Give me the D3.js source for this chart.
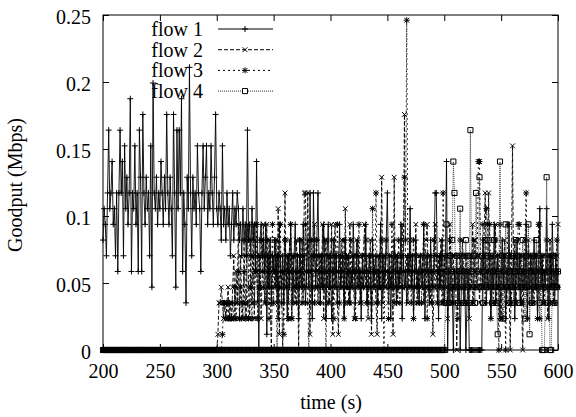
<!DOCTYPE html>
<html>
<head>
<meta charset="utf-8">
<script src="https://cdn.jsdelivr.net/npm/d3@7"></script>
<style>
  body { margin: 0; background: #fff; }
  svg text { font-family: "Liberation Serif", "Times New Roman", serif; fill: #000; }
</style>
</head>
<body>
<div id="chart"></div>
<script>
// goodput per flow in packets per second (1 s samples, t = 200..600)
const PKT_MBPS = 0.01172; // one 1465-byte packet per second

const xTicks = [200, 250, 300, 350, 400, 450, 500, 550, 600];
const yTicks = [0, 0.05, 0.1, 0.15, 0.2, 0.25];
const flowNames = ["flow 1", "flow 2", "flow 3", "flow 4"];

const flow1Levels = [
  7,9,8,6,10,14,9,10,12,8, 9,6,10,5,10,14,10,12,6,13, 9,11,8,10,16,5,10,9,13,8,
  10,5,14,11,5,15,10,8,11,9, 10,6,13,4,17,10,9,11,8,10, 9,12,10,8,11,9,15,10,8,11,
  9,6,15,10,4,14,9,14,10,16, 5,10,8,3,11,9,18,10,6,11, 9,10,8,13,10,9,5,10,13,9,
  11,13,8,10,9,13,10,8,11,15,
  9,8,10,9,7,13,8,9,7,10, 8,9,6,8,10,7,9,8,10,9, 7,8,6,9,7,8,6,14,7,8,
  6,9,7,8,5,12,6,0,7,8, 6,7,5,8,1,6,4,7,3,6, 5,7,4,6,2,8,5,4,6,3,
  7,5,2,6,4,8,5,3,6,8, 4,6,2,7,5,4,8,6,3,5, 7,4,10,5,2,10,6,4,7,10,
  5,3,6,4,8,5,2,6,8,4,
  6,2,5,7,4,6,3,5,8,4, 5,6,2,7,4,5,6,3,5,4, 8,5,3,6,7,4,5,2,6,4,
  5,8,3,4,6,5,2,7,4,5, 6,3,5,4,8,2,6,4,5,7, 10,4,5,2,6,4,7,5,3,6,
  4,5,8,2,6,4,5,3,6,5, 9,4,6,2,5,7,4,5,3,6, 5,4,8,2,5,6,4,3,7,5,
  4,6,10,10,5,2,6,4,7,5,
  3,6,12,0,5,3,6,4,0,5, 4,6,3,5,0,4,6,3,5,0, 3,5,0,0,0,0,0,0,0,0,
  0,0,0,0,7,4,6,3,5,4, 6,2,5,4,8,3,5,6,4,2, 5,7,4,6,2,5,4,8,3,5,
  4,6,2,5,7,4,6,3,5,4, 6,4,8,2,5,4,6,3,5,7, 4,6,2,5,9,4,6,3,5,4,
  9,5,2,6,4,8,5,3,6,4,
  5
];

const flow2Levels = [
  0,0,0,0,0,0,0,0,0,0,0,0,0,0,0,0,0,0,0,0,
  0,0,0,0,0,0,0,0,0,0,0,0,0,0,0,0,0,0,0,0,
  0,0,0,0,0,0,0,0,0,0,0,0,0,0,0,0,0,0,0,0,
  0,0,0,0,0,0,0,0,0,0,0,0,0,0,0,0,0,0,0,0,
  0,0,0,0,0,0,0,0,0,0,0,0,0,0,0,0,0,0,0,0,
  0,
  1,3,3,4,3,2,3,2,3,4, 2,3,2,4,6,2,5,3,8,2, 6,3,2,7,3,2,8,4,2,6,
  3,8,2,7,5,3,4,6,2,5, 8,3,6,8,4,7,3,0,5,6, 4,7,3,9,1,6,4,0,5,10,
  4,6,3,7,5,2,6,4,3,7, 5,0,6,4,7,3,10,10,4,10, 5,1,6,3,7,8,4,6,3,5,
  6,4,8,2,5,7,4,6,3,5,
  8,1,6,8,5,3,1,6,4,7, 5,2,9,4,6,3,8,5,4,6, 2,5,7,4,6,3,5,4,6,8,
  4,6,2,5,7,1,4,6,5,3, 1,6,4,5,11,3,6,4,7,5, 3,6,4,5,1,11,4,6,3,5,
  4,6,8,5,15,4,6,3,5,7, 4,6,2,5,8,4,3,6,5,4, 6,3,5,7,8,4,6,3,5,1,
  4,8,5,3,6,4,7,5,3,6,
  4,6,2,5,8,4,3,6,4,5, 0,5,3,6,4,7,5,3,6,4, 5,2,6,4,8,3,7,5,4,6,
  3,5,6,4,7,10,5,4,10,5, 2,6,4,5,8,3,6,4,5,2, 6,4,7,5,3,6,4,0,5,13,
  4,7,3,6,5,4,6,3,0,5, 4,6,2,7,5,4,6,3,5,4, 6,2,5,8,4,6,3,5,4,6,
  2,5,7,4,6,3,5,4,6,8
];

const flow3Levels = [
  0,0,0,0,0,0,0,0,0,0,0,0,0,0,0,0,0,0,0,0,
  0,0,0,0,0,0,0,0,0,0,0,0,0,0,0,0,0,0,0,0,
  0,0,0,0,0,0,0,0,0,0,0,0,0,0,0,0,0,0,0,0,
  0,0,0,0,0,0,0,0,0,0,0,0,0,0,0,0,0,0,0,0,
  0,0,0,0,0,0,0,0,0,0,0,0,0,0,0,0,0,0,0,0,
  0,
  0,0,0,0,1,3,3,2,3,2, 3,2,2,3,2,4,2,3,5,2, 4,2,3,5,2,6,3,2,7,4,
  2,6,3,5,8,2,6,4,7,5, 4,6,3,7,5,2,6,4,8,3, 5,7,0,6,4,8,3,5,1,7,
  4,6,2,5,8,2,6,4,5,3, 6,4,7,5,3,6,4,8,5,3, 0,5,7,4,6,3,5,7,4,6,
  3,5,6,4,7,0,5,3,6,4,
  7,5,2,6,4,8,5,3,6,4, 5,7,3,6,4,5,3,7,4,6, 5,2,6,4,8,5,3,6,4,5,
  7,3,5,4,6,3,9,5,4,10, 5,3,6,4,7,5,0,6,4,5, 2,6,4,8,5,3,6,4,5,7,
  3,6,4,5,11,7,21,5,4,6, 3,5,7,4,6,3,5,4,6,3, 5,8,4,6,2,5,4,6,3,5,
  7,4,6,3,5,4,6,3,10,5,
  4,6,3,5,7,4,6,3,5,4, 6,2,5,7,4,6,3,5,4,6, 3,5,4,6,3,7,5,4,6,12,
  12,5,4,8,6,3,9,8,5,8, 4,6,3,5,7,4,6,0,8,5, 2,6,4,0,5,8,4,6,3,5,
  4,6,3,5,8,8,4,6,3,5, 7,10,4,6,3,5,4,6,3,5, 6,4,8,2,5,4,6,3,5,7,
  4,6,3,5,4,6,3,5,7,4
];

const flow4Levels = [
  0,0,0,0,0,0,0,0,0,0,0,0,0,0,0,0,0,0,0,0,
  0,0,0,0,0,0,0,0,0,0,0,0,0,0,0,0,0,0,0,0,
  0,0,0,0,0,0,0,0,0,0,0,0,0,0,0,0,0,0,0,0,
  0,0,0,0,0,0,0,0,0,0,0,0,0,0,0,0,0,0,0,0,
  0,0,0,0,0,0,0,0,0,0,0,0,0,0,0,0,0,0,0,0,
  0,0,0,0,0,0,0,0,0,0,0,0,0,0,0,0,0,0,0,0,
  0,0,0,0,0,0,0,0,0,0,0,0,0,0,0,0,0,0,0,0,
  0,0,0,0,0,0,0,0,0,0,0,0,0,0,0,0,0,0,0,0,
  0,0,0,0,0,0,0,0,0,0,0,0,0,0,0,0,0,0,0,0,
  0,0,0,0,0,0,0,0,0,0,0,0,0,0,0,0,0,0,0,0,
  0,0,0,0,0,0,0,0,0,0,0,0,0,0,0,0,0,0,0,0,
  0,0,0,0,0,0,0,0,0,0,0,0,0,0,0,0,0,0,0,0,
  0,0,0,0,0,0,0,0,0,0,0,0,0,0,0,0,0,0,0,0,
  0,0,0,0,0,0,0,0,0,0,0,0,0,0,0,0,0,0,0,0,
  0,0,0,0,0,0,0,0,0,0,0,0,0,0,0,0,0,0,0,0,
  0,3,8,5,3,6,4,7,12,10, 4,6,3,5,9,4,6,3,5,7, 4,6,3,14,5,4,6,3,10,4,
  5,11,4,6,3,5,7,4,6,7, 4,6,3,5,7,4,3,1,5,12, 4,6,2,5,8,4,6,3,5,4,
  6,3,5,7,4,6,3,5,4,7, 5,2,6,4,8,1,5,3,6,4, 5,7,4,6,3,5,0,0,0,4,
  11,3,5,0,0,4,6,3,5,4,
  5
];

const times = d3.range(200, 601);
const styles = [
  { dash: null,  color: "#000", marker: "plus" },
  { dash: "4,2", color: "#000", marker: "cross" },
  { dash: "2,3", color: "#000", marker: "star" },
  { dash: "1,1", color: "#333", marker: "box" }
];

const allLevels = [flow1Levels, flow2Levels, flow3Levels, flow4Levels];
allLevels.forEach((a, i) => {
  if (a.length !== times.length) throw new Error(`flow ${i + 1}: ${a.length} values`);
});

const series = allLevels.map((levels, i) => ({
  name: flowNames[i],
  style: styles[i],
  values: levels.map((k, j) => ({ t: times[j], v: k * PKT_MBPS }))
}));

const W = 576, H = 417;
const margin = { top: 15, right: 18, bottom: 67, left: 103 };
const width = W - margin.left - margin.right;
const height = H - margin.top - margin.bottom;

const svg = d3.select("#chart").append("svg")
  .attr("width", W).attr("height", H);
svg.append("rect").attr("width", W).attr("height", H).attr("fill", "#fff");

const g = svg.append("g").attr("transform", `translate(${margin.left},${margin.top})`);

const x = d3.scaleLinear().domain([200, 600]).range([0, width]);
const y = d3.scaleLinear().domain([0, 0.25]).range([height, 0]);

// marker shapes in gnuplot style
function markerPath(type, s) {
  const p = d3.path();
  if (type === "plus" || type === "star") {
    p.moveTo(-s, 0); p.lineTo(s, 0);
    p.moveTo(0, -s); p.lineTo(0, s);
  }
  if (type === "cross" || type === "star") {
    const c = s * 0.8;
    p.moveTo(-c, -c); p.lineTo(c, c);
    p.moveTo(-c, c); p.lineTo(c, -c);
  }
  if (type === "box") {
    p.rect(-s * 0.85, -s * 0.85, s * 1.7, s * 1.7);
  }
  return p.toString();
}

const fontSize = 20;

// axes (ticks inward, mirrored)
const xAxis = g.append("g").attr("transform", `translate(0,${height})`)
  .call(d3.axisBottom(x).tickValues(xTicks).tickSize(-6).tickSizeOuter(0).tickPadding(14));
const xAxisTop = g.append("g")
  .call(d3.axisTop(x).tickValues(xTicks).tickSize(-6).tickSizeOuter(0).tickFormat(""));
const yAxis = g.append("g")
  .call(d3.axisLeft(y).tickValues(yTicks).tickSize(-6).tickSizeOuter(0).tickPadding(12)
    .tickFormat(d => String(+d.toFixed(2))));
const yAxisRight = g.append("g").attr("transform", `translate(${width},0)`)
  .call(d3.axisRight(y).tickValues(yTicks).tickSize(-6).tickSizeOuter(0).tickFormat(""));

[xAxis, xAxisTop, yAxis, yAxisRight].forEach(a => {
  a.select(".domain").remove();
  a.selectAll("line").attr("stroke", "#000");
  a.selectAll("text").style("font-size", fontSize + "px")
    .style("font-family", '"Liberation Serif", "Times New Roman", serif');
});
yAxis.selectAll("text").attr("dy", "0.43em");

// data lines and markers
const line = d3.line().x(d => x(d.t)).y(d => y(d.v));

series.forEach(s => {
  g.append("path")
    .datum(s.values)
    .attr("fill", "none")
    .attr("stroke", s.style.color)
    .attr("stroke-width", 0.9)
    .attr("stroke-dasharray", s.style.dash)
    .attr("d", line);

  g.append("g").selectAll("path")
    .data(s.values)
    .join("path")
    .attr("transform", d => `translate(${x(d.t)},${y(d.v)})`)
    .attr("d", markerPath(s.style.marker, 3))
    .attr("fill", "none")
    .attr("stroke", "#000")
    .attr("stroke-width", 1);
});

// frame
g.append("rect")
  .attr("width", width).attr("height", height)
  .attr("fill", "none").attr("stroke", "#000").attr("stroke-width", 1);

// legend
const legend = g.append("g").attr("transform", "translate(0,14)");
series.forEach((s, i) => {
  const row = legend.append("g").attr("transform", `translate(0,${i * 20.7})`);
  row.append("text")
    .attr("x", 100).attr("y", 7)
    .attr("text-anchor", "end")
    .style("font-size", fontSize + "px")
    .text(s.name);
  row.append("line")
    .attr("x1", 115).attr("x2", 170)
    .attr("stroke", s.style.color)
    .attr("stroke-width", 1)
    .attr("stroke-dasharray", s.style.dash);
  row.append("path")
    .attr("transform", "translate(142,0)")
    .attr("d", markerPath(s.style.marker, 3))
    .attr("fill", s.style.marker === "box" ? "#fff" : "none")
    .attr("stroke", "#000");
});

// axis titles
svg.append("text")
  .attr("x", 331).attr("y", 409)
  .attr("text-anchor", "middle")
  .style("font-size", fontSize + "px")
  .text("time (s)");

svg.append("text")
  .attr("transform", "translate(22,185) rotate(-90)")
  .attr("text-anchor", "middle")
  .style("font-size", fontSize + "px")
  .text("Goodput (Mbps)");
</script>
</body>
</html>
